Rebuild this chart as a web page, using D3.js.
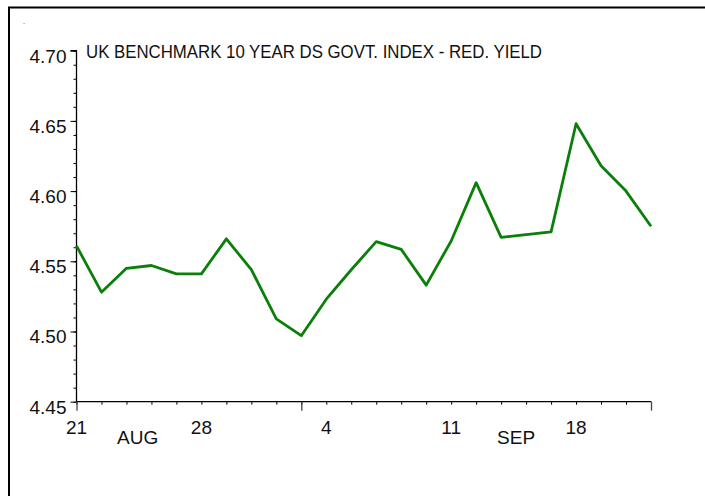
<!DOCTYPE html>
<html>
<head>
<meta charset="utf-8">
<script src="https://cdn.jsdelivr.net/npm/d3@7"></script>
<style>
  html, body { margin: 0; padding: 0; background: #fff; }
  svg { display: block; }
  text { font-family: "Liberation Sans Narrow", "Arial Narrow", "Liberation Sans", Arial, sans-serif; fill: #111; }
</style>
</head>
<body>
<svg id="chart" width="705" height="496"></svg>
<script>
// ---- data ----
const dates = ["2000-08-21","2000-08-22","2000-08-23","2000-08-24","2000-08-25",
               "2000-08-28","2000-08-29","2000-08-30","2000-08-31","2000-09-01",
               "2000-09-04","2000-09-05","2000-09-06","2000-09-07","2000-09-08",
               "2000-09-11","2000-09-12","2000-09-13","2000-09-14","2000-09-15",
               "2000-09-18","2000-09-19","2000-09-20","2000-09-21"];
const yieldValues = [4.561, 4.528, 4.545, 4.547, 4.541,
                     4.541, 4.566, 4.544, 4.509, 4.497,
                     4.523, 4.544, 4.564, 4.5585, 4.533,
                     4.5645, 4.606, 4.567, 4.569, 4.571,
                     4.648, 4.618, 4.600, 4.575];
const dayTickDates = ["2000-08-21","2000-08-28","2000-09-04","2000-09-11","2000-09-18"];
const dayTickLabels = ["21","28","4","11","18"];
const monthLabels = ["AUG","SEP"];
const monthLabelPos = [2.45, 17.6];          // position in trading-day index units
const boundaryDates = ["2000-08-21","2000-09-01","2000-09-21"];
const yTickValues = [4.45, 4.50, 4.55, 4.60, 4.65, 4.70];
const yTickLabels = ["4.45","4.50","4.55","4.60","4.65","4.70"];
const titleText = "UK BENCHMARK 10 YEAR DS GOVT. INDEX - RED. YIELD";

// ---- layout ----
const svg = d3.select("#chart");
const x0 = 76.5, x1 = 651, yTop = 50.7, yBot = 401.7;
const FONT = '"Liberation Sans Narrow", "Arial Narrow", "Liberation Sans", Arial, sans-serif';

const x = d3.scalePoint().domain(dates).range([x0, x1]);
const xi = d3.scaleLinear().domain([0, dates.length - 1]).range([x0, x1]);
const y = d3.scaleLinear().domain([4.45, 4.70]).range([yBot, yTop]);

// frame
svg.append("path")
  .attr("d", `M9,496 V7.5 H705`)
  .attr("fill", "none").attr("stroke", "#000").attr("stroke-width", 2);

// stray dot
svg.append("text").attr("x", 24).attr("y", 24).attr("font-size", 7)
  .attr("text-anchor", "middle").text(".");

// y axis
const minorY = d3.range(0, 26).map(i => 4.45 + i * 0.01);
const yAxisMinor = d3.axisLeft(y).tickValues(minorY).tickSize(3).tickFormat("");
svg.append("g").attr("transform", `translate(${x0},0)`).call(yAxisMinor)
  .call(g => g.select(".domain").remove())
  .selectAll("line").attr("stroke", "#000");
const yAxis = d3.axisLeft(y).tickValues(yTickValues).tickSize(6)
  .tickFormat((d, i) => yTickLabels[i]).tickPadding(4);
const gy = svg.append("g").attr("transform", `translate(${x0},0)`).call(yAxis);
gy.select(".domain").attr("d", `M-6,${yTop}H0V${yBot}`).attr("stroke", "#000").attr("stroke-width", 1.3);
gy.selectAll("line").attr("stroke", "#000");
gy.selectAll("text").attr("font-size", 19).attr("dy", "0.6em").attr("fill", "#111")
  .style("font-family", FONT);

// x axis
const xAxisMinor = d3.axisBottom(x).tickValues(dates).tickSize(3).tickFormat("");
const gx = svg.append("g").attr("transform", `translate(0,${yBot})`).call(xAxisMinor);
gx.select(".domain").attr("d", `M${x0},0H${x1}`).attr("stroke", "#000").attr("stroke-width", 1.3);
gx.selectAll("line").attr("stroke", "#000");
const xAxisMajor = d3.axisBottom(x).tickValues(boundaryDates).tickSize(9).tickFormat("");
const gx2 = svg.append("g").attr("transform", `translate(0,${yBot})`).call(xAxisMajor);
gx2.select(".domain").remove();
gx2.selectAll("line").attr("stroke", "#444").attr("stroke-width", 1.3);

// day labels
svg.append("g").selectAll("text").data(dayTickDates).join("text")
  .attr("x", d => x(d)).attr("y", 434)
  .attr("text-anchor", "middle").attr("font-size", 19)
  .text((d, i) => dayTickLabels[i]);
// month labels
svg.append("g").selectAll("text").data(monthLabels).join("text")
  .attr("x", (d, i) => xi(monthLabelPos[i])).attr("y", 443.5)
  .attr("text-anchor", "middle").attr("font-size", 19)
  .text(d => d);

// title
svg.append("text").attr("x", 86).attr("y", 57.5).attr("font-size", 18)
  .attr("textLength", 456).attr("lengthAdjust", "spacingAndGlyphs")
  .text(titleText);

// line
const line = d3.line().x((d, i) => x(dates[i])).y(d => y(d));
svg.append("path").datum(yieldValues)
  .attr("d", line).attr("fill", "none")
  .attr("stroke", "#0a7f0a").attr("stroke-width", 2.8)
  .attr("stroke-linejoin", "round");
</script>
</body>
</html>
